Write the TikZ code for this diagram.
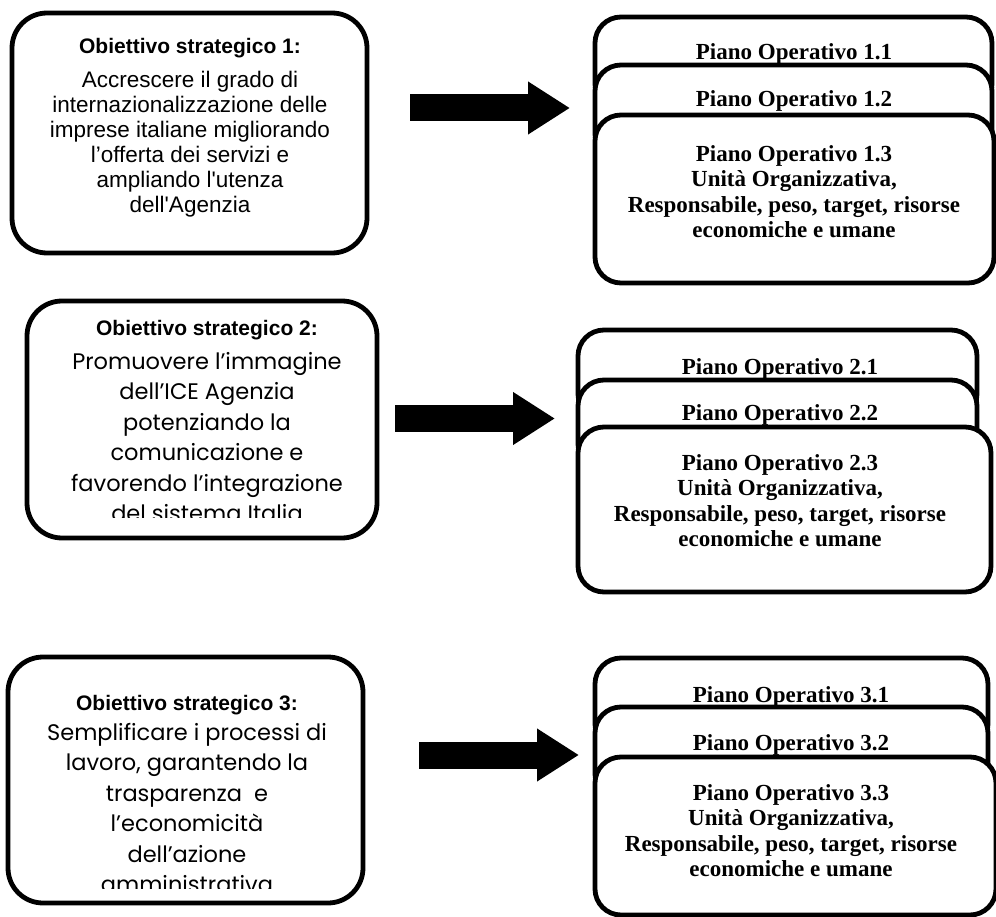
\documentclass[tikz,border=0pt]{standalone}
\usepackage{fontspec}
\setmainfont{Liberation Serif}
\newfontfamily\arialf{Liberation Sans}
\newfontfamily\gothf{Poppins}
\usepackage{tikz}
\usetikzlibrary{arrows.meta,positioning}
\tikzset{
  obox/.style={draw=black,line width=4.8pt,rounded corners=35pt,fill=white},
  pbox/.style={draw=black,line width=4.8pt,rounded corners=26pt,fill=white},
  otitle/.style={font=\arialf\bfseries\fontsize{21}{25}\selectfont,inner sep=0pt,anchor=base},
  otxt/.style={font=\arialf\fontsize{22.5}{25}\selectfont,align=center,inner sep=0pt,anchor=north},
  gtxt/.style={font=\gothf\fontsize{22.5}{30.5}\selectfont,align=center,inner sep=0pt,anchor=north},
  ptitle/.style={font=\bfseries\fontsize{23}{25.5}\selectfont,inner sep=0pt,anchor=base},
  ptxt/.style={font=\bfseries\fontsize{23}{25.5}\selectfont,align=center,inner sep=0pt,anchor=north},
  bigar/.style={line width=27pt,-{Triangle[length=42pt,width=50pt]}}
}
\begin{document}
\begin{tikzpicture}[x=1pt,y=-1pt]
\useasboundingbox (0,0) rectangle (996,917);
\draw[obox] (12,13) rectangle (367,253);
\node[otitle] (ob1t) at (190,54) {Obiettivo strategico 1:};
\node[otxt] (ob1) at (190,70.5) {Accrescere il grado di\\internazionalizzazione delle\\imprese italiane migliorando\\l’offerta dei servizi e\\ampliando l'utenza\\dell'Agenzia};
\draw[obox] (27,301) rectangle (377,538);
\node[otitle] (ob2t) at (207,335) {Obiettivo strategico 2:};
\begin{scope}
\clip (27,301) rectangle (377,517);
\node[gtxt] (ob2) at (207,352) {Promuovere l’immagine\\dell’ICE Agenzia\\potenziando la\\comunicazione e\\favorendo l’integrazione\\del sistema Italia};
\end{scope}
\draw[obox] (8,657) rectangle (363,903);
\node[otitle] (ob3t) at (187,710) {Obiettivo strategico 3:};
\begin{scope}
\clip (8,657) rectangle (363,888);
\node[gtxt] (ob3) at (187,723) {Semplificare i processi di\\lavoro, garantendo la\\trasparenza~ e\\l’economicità\\dell’azione\\amministrativa};
\end{scope}
\draw[pbox] (595,17) rectangle (992,110);
\node[ptitle] (po11) at (794,59.5) {Piano Operativo 1.1};
\draw[pbox] (595,65) rectangle (992,160);
\node[ptitle] (po12) at (794,107) {Piano Operativo 1.2};
\draw[pbox] (595,115) rectangle (994,283);
\node[ptxt] (po13) at (794,145) {Piano Operativo 1.3\\Unità Organizzativa,\\Responsabile, peso, target, risorse\\economiche e umane};
\draw[pbox] (578,330) rectangle (977,420);
\node[ptitle] (po21) at (780,374.5) {Piano Operativo 2.1};
\draw[pbox] (578,380) rectangle (977,470);
\node[ptitle] (po22) at (780,420.5) {Piano Operativo 2.2};
\draw[pbox] (578,427) rectangle (991,592);
\node[ptxt] (po23) at (780,454) {Piano Operativo 2.3\\Unità Organizzativa,\\Responsabile, peso, target, risorse\\economiche e umane};
\draw[pbox] (595,658) rectangle (988,750);
\node[ptitle] (po31) at (791,702.5) {Piano Operativo 3.1};
\draw[pbox] (595,707) rectangle (988,800);
\node[ptitle] (po32) at (791,750.5) {Piano Operativo 3.2};
\draw[pbox] (595,757) rectangle (996,915);
\node[ptxt] (po33) at (791,784) {Piano Operativo 3.3\\Unità Organizzativa,\\Responsabile, peso, target, risorse\\economiche e umane};
\coordinate (a1s) at (410,108);
\coordinate (a1e) at (570,108);
\coordinate (a2s) at (395,418.5);
\coordinate (a2e) at (555,418.5);
\coordinate (a3s) at (419,755);
\coordinate (a3e) at (579,755);
\draw[bigar] (a1s) -- (a1e);
\draw[bigar] (a2s) -- (a2e);
\draw[bigar] (a3s) -- (a3e);
\end{tikzpicture}
\end{document}
